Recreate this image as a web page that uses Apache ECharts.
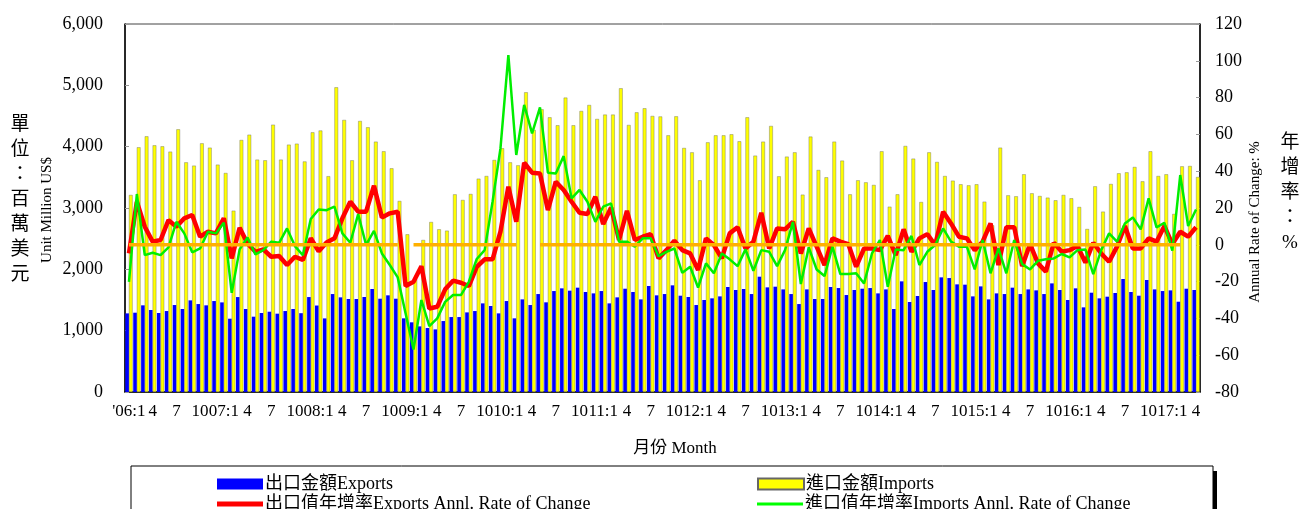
<!DOCTYPE html>
<html>
<head>
<meta charset="utf-8">
<script src="https://cdn.jsdelivr.net/npm/echarts@6/dist/echarts.min.js"></script>
<style>
  html, body { margin: 0; padding: 0; background: #fff; }
  #chart { width: 1301px; height: 509px; }
</style>
</head>
<body>
<div id="chart"></div>
<script>
// month labels, 2006:1 .. 2017:4
var categories = [];
for (var y = 2006; y <= 2017; y++) {
    for (var m = 1; m <= 12; m++) {
        if (y === 2017 && m > 4) break;
        if (m === 1) categories.push((y === 2006 ? "'" : '') + String(y).slice(2) + ':1');
        else categories.push(String(m));
    }
}

var exportsVal = [
    1282,1293,1413,1337,1288,1320,1418,1353,1494,1434,1413,1483,
    1461,1195,1548,1353,1228,1288,1309,1277,1320,1353,1285,1548,
    1410,1200,1597,1543,1516,1516,1549,1679,1521,1576,1521,1201,
    1136,1070,1043,1021,1157,1222,1222,1298,1320,1445,1402,1282,
    1483,1201,1510,1418,1597,1462,1646,1690,1652,1701,1630,1608,
    1646,1445,1543,1684,1630,1510,1728,1576,1597,1739,1570,1549,
    1418,1500,1527,1559,1712,1663,1679,1597,1880,1706,1717,1673,
    1597,1434,1673,1516,1516,1712,1695,1581,1663,1684,1695,1608,
    1673,1353,1804,1467,1565,1793,1663,1869,1858,1755,1750,1559,
    1722,1510,1608,1597,1701,1597,1673,1657,1597,1771,1663,1500,
    1690,1380,1619,1527,1554,1614,1842,1630,1570,1826,1673,1646,
    1657,1472,1684,1663
];

var importsVal = [
    3212,3989,4168,4021,4005,3918,4282,3744,3690,4054,3983,3706,
    3570,2956,4108,4195,3788,3777,4358,3788,4032,4048,3758,4233,
    4263,3518,4967,4435,3777,4418,4315,4081,3924,3646,3114,2570,
    1840,2478,2771,2652,2630,3222,3130,3228,3478,3521,3782,3973,
    3744,3695,4886,4271,4608,4478,4348,4799,4348,4581,4679,4451,
    4522,4522,4951,4353,4559,4625,4500,4492,4184,4494,3978,3907,
    3451,4070,4184,4184,4201,4087,4478,3853,4081,4337,3516,3837,
    3907,3217,4163,3619,3500,4081,3772,3222,3451,3418,3375,3924,
    3021,3222,4011,3804,3097,3907,3750,3521,3445,3386,3369,3386,
    3103,2717,3983,3206,3190,3549,3239,3195,3168,3125,3212,3157,
    3016,2657,3353,2940,3391,3565,3581,3668,3434,3924,3521,3549,
    2902,3679,3684,3505
];

var exportsRate = [
    -4.7,23.4,9.8,1.7,2.6,13.4,9.8,14.4,16.2,4.4,7.1,6.2,
    14.4,-7.4,9.3,0.7,-3.8,-2.5,-6.5,-6.1,-11.0,-6.5,-8.2,3.6,
    -3.5,1.3,3.5,14.4,23.4,18.0,18.0,32.1,14.9,17.1,18.0,-22.4,
    -20.1,-11.6,-34.6,-33.7,-24.2,-19.5,-20.6,-22.4,-12.0,-7.9,-7.9,7.1,
    31.6,12.5,44.6,39.2,38.8,18.9,34.3,29.8,23.4,17.4,16.7,26.1,
    11.3,20.3,2.6,18.5,2.6,4.4,5.8,-7.4,-2.9,2.2,-2.9,-4.7,
    -13.7,3.5,-0.1,-7.4,6.2,9.5,-2.0,1.7,17.4,-2.0,8.9,8.4,
    12.5,-4.7,8.9,-1.0,-11.0,3.5,1.7,0.4,-11.9,-2.0,-2.0,-2.9,
    4.8,-5.6,8.4,-3.8,3.5,5.8,-0.1,18.0,11.6,4.4,3.5,-2.9,
    1.7,11.6,-11.0,9.5,9.6,-11.6,0.4,-10.1,-14.6,1.1,-3.8,-2.9,
    -0.7,-9.7,1.1,-4.7,-9.2,-1.0,10.2,-2.0,-2.0,3.5,1.7,10.2,
    0.4,7.1,4.4,9.5
];

var importsRate = [
    -20.1,27.6,-5.6,-4.3,-5.6,-1.4,12.5,6.2,-4.1,-2.0,7.1,6.2,
    12.0,-26.1,-2.5,4.0,-5.2,-2.9,1.7,1.1,8.9,-0.7,-5.7,14.0,
    19.2,18.8,20.7,6.2,1.1,16.7,-0.1,7.6,-4.7,-11.0,-17.7,-37.3,
    -56.9,-30.0,-44.2,-40.0,-31.0,-27.3,-27.3,-20.1,-7.7,-2.9,23.4,52.4,
    103.1,48.8,76.0,60.6,74.7,39.2,38.8,48.2,25.2,29.8,23.4,12.5,
    20.7,22.5,1.7,1.7,-1.0,3.5,3.5,-6.2,-3.8,-2.0,-15.2,-11.9,
    -23.2,-10.1,-15.5,-4.7,-7.9,-11.6,-2.5,-14.1,-2.9,-3.8,-11.6,-2.9,
    12.5,-21.3,-1.4,-13.4,-17.0,-1.0,-15.9,-15.9,-15.5,-21.0,-4.7,2.6,
    -22.8,-2.5,-2.9,4.8,-11.0,-3.8,-0.1,8.9,1.7,-1.0,-1.0,-13.4,
    2.6,-15.5,-2.0,-15.5,2.6,-10.5,-13.4,-8.7,-7.9,-7.4,-5.0,-6.8,
    -2.9,-2.5,-15.9,-2.9,6.2,1.7,11.6,14.9,8.4,25.2,9.5,12.0,
    -3.2,37.9,10.2,19.2
];

// zero reference line (with the breaks seen in the original)
var zeroLine = [
    0,0,0,0,0,0,0,0,0,0,0,0,
    0,0,0,0,0,0,0,0,0,0,0,0,
    0,0,0,0,0,0,0,0,0,0,0,null,
    0,0,0,0,0,0,0,0,0,0,0,0,
    0,0,null,null,0,0,0,0,0,0,0,0,
    0,0,0,0,0,0,0,0,0,0,0,0,
    0,0,0,0,0,0,0,0,0,0,0,0,
    0,0,0,0,0,0,0,0,0,0,0,0,
    0,0,0,0,0,0,0,0,0,0,0,0,
    0,0,0,0,0,0,0,0,0,0,0,0,
    0,0,0,0,0,0,0,0,0,0,0,0,
    0,0,null,null
];

var leftTicks = [0, 6000, 1000];
var rightTicks = [-80, 120, 20];

var FONT = '"Liberation Serif", "Noto Sans CJK TC", serif';
var nExp = '出口金額Exports';
var nImp = '進口金額Imports';
var nExpR = '出口值年增率Exports Annl. Rate of Change';
var nImpR = '進口值年增率Imports Annl. Rate of Change';

function legendAt(name, left, top, h) {
    return {
        data: [name], left: left, top: top, icon: 'rect',
        itemWidth: 46, itemHeight: h, itemGap: 0,
        textStyle: { fontFamily: FONT, fontSize: 18, color: '#000', padding: [0, 0, 0, -3] }
    };
}

var chart = echarts.init(document.getElementById('chart'));
var option = {
    animation: false,
    backgroundColor: '#fff',
    grid: { left: 125, right: 101, top: 24, bottom: 117, show: true, borderColor: '#444', borderWidth: 1 },
    legend: [
        legendAt(nExp, 212, 470, 11),
        legendAt(nImp, 752, 470, 11),
        legendAt(nExpR, 212, 490, 5),
        legendAt(nImpR, 752, 490, 3)
    ],
    xAxis: {
        type: 'category',
        data: categories,
        axisLine: { lineStyle: { color: '#000', width: 1.5 } },
        axisTick: { show: false },
        axisLabel: { interval: 2, color: '#000', fontFamily: FONT, fontSize: 17, margin: 11 }
    },
    yAxis: [
        {
            type: 'value', min: leftTicks[0], max: leftTicks[1], interval: leftTicks[2],
            splitLine: { show: false },
            axisLine: { show: true, lineStyle: { color: '#000', width: 1.5 } },
            axisTick: { show: true, inside: true, length: 4, lineStyle: { color: '#999' } },
            axisLabel: {
                color: '#000', fontFamily: FONT, fontSize: 18, margin: 22,
                formatter: function (v) { return v.toLocaleString('en-US'); }
            }
        },
        {
            type: 'value', min: rightTicks[0], max: rightTicks[1], interval: rightTicks[2],
            splitLine: { show: false },
            axisLine: { show: true, lineStyle: { color: '#000', width: 1.5 } },
            axisTick: { show: true, inside: true, length: 4, lineStyle: { color: '#999' } },
            axisLabel: { color: '#000', fontFamily: FONT, fontSize: 18, margin: 15 }
        }
    ],
    graphic: [
        { type: 'rect', shape: { x: 131, y: 466, width: 1082, height: 60 },
          style: { fill: 'none', stroke: '#000', lineWidth: 1 } },
        { type: 'rect', shape: { x: 1213, y: 471, width: 4, height: 40 }, style: { fill: '#000' } },
        { type: 'text', x: 20, y: 200, style: { text: '單\n位\n：\n百\n萬\n美\n元', font: '19px ' + FONT,
          lineHeight: 25, fill: '#000', align: 'center', verticalAlign: 'middle' } },
        { type: 'text', x: 47, y: 210, rotation: Math.PI / 2, style: { text: 'Unit Million US$', font: '15px ' + FONT,
          fill: '#000', align: 'center', verticalAlign: 'middle' } },
        { type: 'text', x: 1255, y: 222, rotation: Math.PI / 2, style: { text: 'Annual Rate of Change: %', font: '15px ' + FONT,
          fill: '#000', align: 'center', verticalAlign: 'middle' } },
        { type: 'text', x: 1290, y: 193, style: { text: '年\n增\n率\n：\n%', font: '19px ' + FONT,
          lineHeight: 25, fill: '#000', align: 'center', verticalAlign: 'middle' } },
        { type: 'text', x: 675, y: 449, style: { text: '月份 Month', font: '17px ' + FONT,
          fill: '#000', align: 'center', verticalAlign: 'middle' } }
    ],
    series: [
        {
            name: nExp, type: 'bar', data: exportsVal,
            barGap: '0%', barCategoryGap: '8%',
            itemStyle: { color: '#0000ff' }
        },
        {
            name: nImp, type: 'bar', data: importsVal,
            itemStyle: { color: '#ffff00', borderColor: '#666', borderWidth: 0.4 }
        },
        {
            name: nExpR, type: 'line', yAxisIndex: 1, data: exportsRate,
            symbol: 'none', itemStyle: { color: '#ff0000' }, lineStyle: { color: '#ff0000', width: 4.5 }
        },
        {
            name: nImpR, type: 'line', yAxisIndex: 1, data: importsRate,
            symbol: 'none', itemStyle: { color: '#00ff00' }, lineStyle: { color: '#00ee00', width: 2.5 }
        },
        {
            name: 'zero', type: 'line', yAxisIndex: 1, data: zeroLine,
            symbol: 'none', connectNulls: false, lineStyle: { color: '#ffb000', width: 3.5 }
        }
    ]
};
chart.setOption(option);
window.onresize = chart.resize;
</script>
</body>
</html>
